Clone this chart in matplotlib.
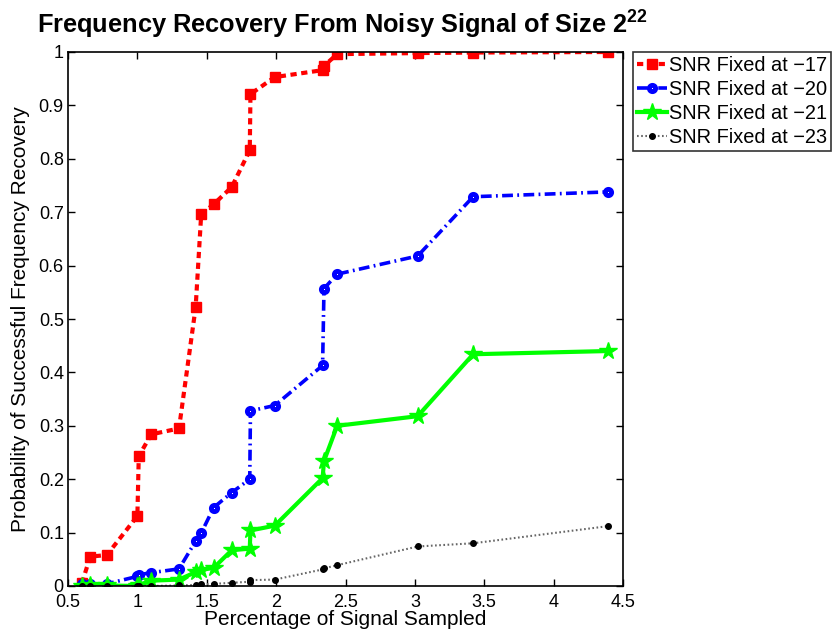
import matplotlib
matplotlib.use("Agg")
import matplotlib.pyplot as plt

plt.rcParams['font.family'] = ['Liberation Sans', 'DejaVu Sans']
plt.rcParams['mathtext.fontset'] = 'custom'
plt.rcParams['mathtext.rm'] = 'Liberation Sans'
plt.rcParams['mathtext.bf'] = 'Liberation Sans:bold'

# percentage of signal sampled (shared by all series)
pct = [0.60, 0.66, 0.78, 1.00, 1.01, 1.10, 1.30, 1.42, 1.46, 1.55,
       1.68, 1.81, 1.815, 1.99, 2.335, 2.345, 2.44, 3.02, 3.42, 4.39]

snr17 = [0.005, 0.055, 0.058, 0.131, 0.243, 0.284, 0.295, 0.522, 0.696, 0.715,
         0.747, 0.816, 0.921, 0.953, 0.966, 0.974, 0.996, 0.998, 0.999, 1.0]
snr20 = [0.004, 0.003, 0.004, 0.018, 0.021, 0.025, 0.032, 0.084, 0.099, 0.147,
         0.175, 0.200, 0.328, 0.338, 0.413, 0.557, 0.584, 0.618, 0.729, 0.738]
snr21 = [0.0, 0.001, 0.001, 0.0, 0.002, 0.010, 0.012, 0.026, 0.030, 0.034,
         0.067, 0.070, 0.104, 0.113, 0.202, 0.234, 0.300, 0.318, 0.434, 0.440]
snr23 = [0.0, 0.0, 0.0, 0.0, 0.0, 0.0, 0.001, 0.002, 0.003, 0.004,
         0.006, 0.008, 0.011, 0.012, 0.031, 0.033, 0.039, 0.074, 0.080, 0.112]

labels = ['SNR Fixed at \u221217', 'SNR Fixed at \u221220',
          'SNR Fixed at \u221221', 'SNR Fixed at \u221223']

W, H = 832, 633
fig = plt.figure(figsize=(W / 100, H / 100), dpi=100)
ax = fig.add_axes([68 / W, 1 - 586 / H, (623 - 68) / W, (586 - 52) / H])

ax.plot(pct, snr17, color='red', linestyle=(0, (1.5, 1.1)), linewidth=3, marker='s',
        markersize=7.5, markerfacecolor='red', markeredgecolor='red', label=labels[0])
ax.plot(pct, snr20, color='blue', linestyle=(0, (3, 1.2, 0.5, 1.2)), linewidth=2.6, marker='o',
        markersize=4.5, markeredgewidth=3.5, markerfacecolor='white', markeredgecolor='blue',
        label=labels[1])
ax.plot(pct, snr21, color='#00ff00', linestyle='-', linewidth=3, marker='*',
        markersize=13, markerfacecolor='#00ff00', markeredgecolor='#00ff00', label=labels[2])
ax.plot(pct, snr23, color='#666666', linestyle=(0, (0.8, 1.2)), linewidth=1.5, marker='o',
        markersize=4, markerfacecolor='black', markeredgecolor='black', label=labels[3])

ax.set_xlim(0.5, 4.5)
ax.set_ylim(0, 1)
ax.set_xticks([0.5, 1, 1.5, 2, 2.5, 3, 3.5, 4, 4.5])
ax.set_xticklabels(['0.5', '1', '1.5', '2', '2.5', '3', '3.5', '4', '4.5'])
ax.set_yticks([i / 10 for i in range(11)])
ax.set_yticklabels(['0', '0.1', '0.2', '0.3', '0.4', '0.5', '0.6', '0.7', '0.8', '0.9', '1'])
ax.tick_params(direction='in', top=True, right=True, labelsize=13, length=5, width=1)
ax.tick_params(axis='x', pad=6)
ax.tick_params(axis='y', pad=3)
for s in ax.spines.values():
    s.set_linewidth(1.2)

xl = ax.set_xlabel('Percentage of Signal Sampled', fontsize=15, labelpad=-1)
yl = ax.set_ylabel('Probability of Successful Frequency Recovery', fontsize=15, labelpad=6)

title = fig.text(37 / W, 1 - 34 / H, 'Frequency Recovery From Noisy Signal of Size 2$^{\\mathbf{22}}$',
                 fontsize=18, fontweight='bold', ha='left', va='baseline')

# fit title and axis label widths to the reference
r = fig.canvas.get_renderer()
for _ in range(2):
    w = title.get_window_extent(r).width
    title.set_fontsize(title.get_fontsize() * 613 / w)
    w = xl.get_window_extent(r).width
    xl.set_fontsize(xl.get_fontsize() * 282 / w)
yl.set_fontsize(xl.get_fontsize())

# legend sits right of the axes; its frame runs past the figure edge as in the reference
probe = fig.text(0, 0, labels[0], fontsize=15)
leg_fs = 15 * 159 / probe.get_window_extent(r).width
probe.remove()

spacing = 0.3
for _ in range(3):
    leg = ax.legend(loc='upper left', bbox_to_anchor=(1.018, 1.0), fontsize=leg_fs,
                    frameon=True, fancybox=False, edgecolor='black', borderaxespad=0,
                    handlelength=1.5, handletextpad=0.1, labelspacing=spacing, borderpad=0.2)
    h = leg.get_window_extent(r).height
    spacing = max(0.0, spacing + (99 - h) / 3 / (leg_fs * 100 / 72))
leg.get_frame().set_linewidth(1.2)

fig.savefig('out.png', dpi=100)
